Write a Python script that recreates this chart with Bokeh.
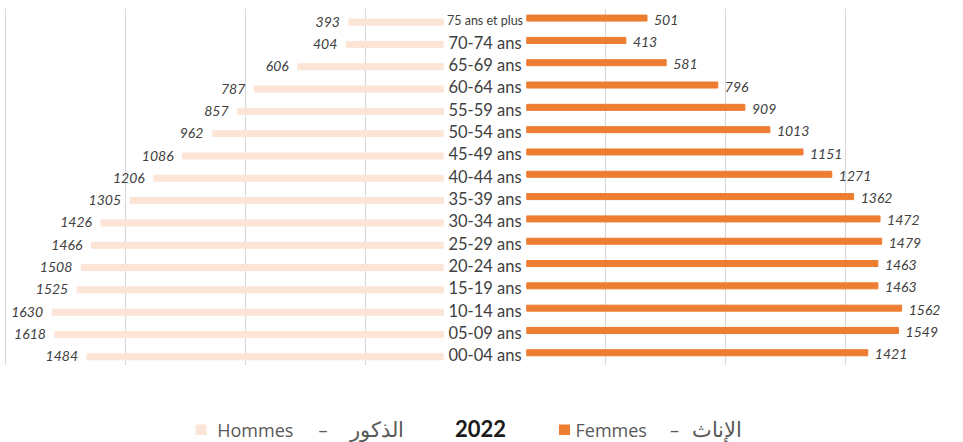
from bokeh.plotting import figure
from bokeh.layouts import column
from bokeh.models import ColumnDataSource, FactorRange, Range1d, Grid, FixedTicker, Label, BoxAnnotation
from bokeh.transform import dodge
from bokeh.core.properties import value
from bokeh.embed import file_html
from bokeh.resources import INLINE

# ---- data (top to bottom as in the chart) ----
ages = ["75 ans et plus", "70-74 ans", "65-69 ans", "60-64 ans", "55-59 ans",
        "50-54 ans", "45-49 ans", "40-44 ans", "35-39 ans", "30-34 ans",
        "25-29 ans", "20-24 ans", "15-19 ans", "10-14 ans", "05-09 ans", "00-04 ans"]
hommes = [393, 404, 606, 787, 857, 962, 1086, 1206, 1305, 1426, 1466, 1508, 1525, 1630, 1618, 1484]
femmes = [501, 413, 581, 796, 909, 1013, 1151, 1271, 1362, 1472, 1479, 1463, 1463, 1562, 1549, 1421]
grid_ticks = [-2000, -1500, -1000, -500, 500, 1000, 1500, 2000]
year = "2022"
legend_h = ("Hommes", "–", "الذكور")
legend_f = ("Femmes", "–", "الإناث")

# ---- layout constants ----
W = 963
GAP = 174            # half-gap between the two pyramids (value units)
C_H = "#FCE4D6"
C_F = "#ED7D31"
TXT = "#404040"

src = ColumnDataSource(dict(
    age=ages,
    h_left=[-(GAP + v) for v in hommes],
    h_right=[-GAP] * len(hommes),
    h_txt=[str(v) for v in hommes],
    f_left=[GAP] * len(femmes),
    f_right=[GAP + v for v in femmes],
    f_txt=[str(v) for v in femmes],
    zero=[0] * len(ages),
    fsize=["12.5px" if len(a) > 10 else "16.5px" for a in ages],
))

p = figure(width=W, height=365,
           x_range=Range1d(-484.5 / 0.24, (W - 484.5) / 0.24),
           y_range=FactorRange(factors=list(reversed(ages)), range_padding=0),
           output_backend="svg", toolbar_location=None,
           x_axis_location=None, y_axis_location=None,
           min_border_left=0, min_border_right=0, min_border_top=8, min_border_bottom=0)
p.outline_line_color = None
p.grid.visible = False
p.add_layout(Grid(dimension=0, ticker=FixedTicker(ticks=grid_ticks),
                  grid_line_color="#D9D9D9", grid_line_width=1.2), "center")

# bars
p.hbar(y=dodge("age", -0.11, range=p.y_range), left="h_left", right="h_right",
       height=0.27, color=C_H, source=src)
p.hbar(y=dodge("age", 0.07, range=p.y_range), left="f_left", right="f_right",
       height=0.27, color=C_F, source=src)

# value labels
p.text(x="h_left", y=dodge("age", -0.09, range=p.y_range), text="h_txt", source=src,
       x_offset=-9, text_align="right", text_baseline="middle",
       text_font=value("Lato"), text_font_style="italic", text_font_size="14px",
       text_color=TXT)
p.text(x="f_right", y=dodge("age", 0.0, range=p.y_range), text="f_txt", source=src,
       x_offset=7, text_align="left", text_baseline="middle",
       text_font=value("Lato"), text_font_style="italic", text_font_size="14px",
       text_color=TXT)

# age labels
p.text(x="zero", y=dodge("age", -0.04, range=p.y_range), text="age", source=src,
       text_align="center", text_baseline="middle",
       text_font=value("Lato"), text_font_size="fsize", text_color=TXT)

# ---- legend strip ----
lg = figure(width=W, height=77, x_range=Range1d(0, W), y_range=Range1d(0, 77),
            output_backend="svg", toolbar_location=None,
            x_axis_location=None, y_axis_location=None,
            min_border_left=0, min_border_right=0, min_border_top=0, min_border_bottom=0)
lg.outline_line_color = None
lg.grid.visible = False

LY = 12.5
LG = "#595959"
for sx, col in ((195, C_H), (558.5, C_F)):
    lg.add_layout(BoxAnnotation(left=sx, right=sx + 11, bottom=LY - 5, top=LY + 5.5,
                                fill_color=col, fill_alpha=1, line_color=None))

def lab(x, y, txt, align, font="Open Sans", size="18px", style="normal", color=LG):
    lg.add_layout(Label(x=x, y=y, text=txt,
                        text_align=align, text_baseline="middle",
                        text_font=font, text_font_size=size, text_font_style=style,
                        text_color=color))

lab(216.7, LY, legend_h[0], "left")
lab(322.5, LY, legend_h[1], "center")
lab(403, LY + 1, legend_h[2], "right", size="21px")
lab(480, LY + 2, year, "center", font="Lato", size="22px", style="bold", color="#1A1A1A")
lab(575, LY, legend_f[0], "left")
lab(674, LY, legend_f[1], "center")
lab(741.7, LY + 1, legend_f[2], "right", size="21px")

open("out.html", "w").write(file_html(column(p, lg, spacing=0), INLINE))
